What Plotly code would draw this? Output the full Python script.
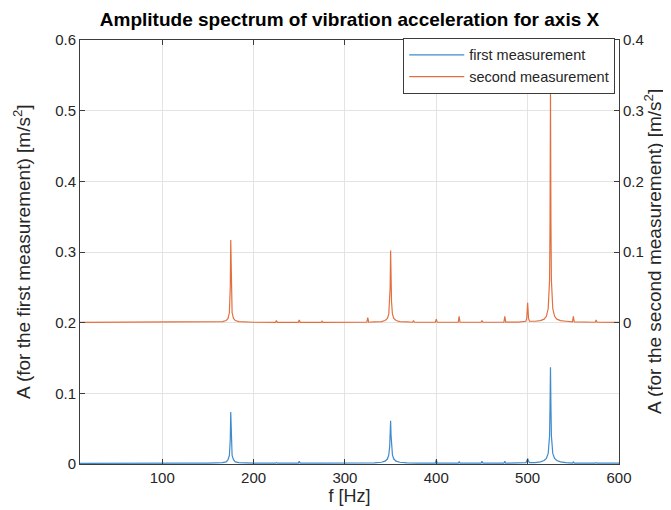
import plotly.graph_objs as go

# frequency grid and amplitudes
freq_first = [
    10, 30, 60, 90, 120, 150, 160, 166, 170, 172, 173.5, 174.5, 175, 175.5,
    176.5, 178, 180, 184, 190, 200, 224, 225, 226, 249, 250, 251, 275, 300,
    320, 332, 340, 344, 346.5, 348, 349, 349.5, 350, 350.5, 351, 352, 353.5,
    356, 360, 368, 380, 399, 400, 401, 424, 425, 426, 449, 450, 451, 474,
    475, 476, 490, 498, 499, 500, 501, 502, 508, 514, 518, 520.5, 522.5, 524,
    524.5, 525, 525.5, 526, 527.5, 529.5, 532, 536, 542, 549, 550, 551, 574,
    575, 576, 600,
]
amp_first = [
    0.001, 0.0012, 0.001, 0.0012, 0.0011, 0.0013, 0.0015, 0.002, 0.003, 0.006,
    0.012, 0.035, 0.0736, 0.035, 0.012, 0.006, 0.003, 0.002, 0.0015, 0.0013,
    0.0012, 0.002, 0.0012, 0.0013, 0.004, 0.0013, 0.0012, 0.0012, 0.0013,
    0.0015, 0.0025, 0.004, 0.007, 0.013, 0.025, 0.04, 0.0613, 0.04, 0.025,
    0.013, 0.007, 0.004, 0.0025, 0.0015, 0.0012, 0.0013, 0.006, 0.0013,
    0.0012, 0.003, 0.0012, 0.0012, 0.004, 0.0012, 0.0012, 0.004, 0.0012,
    0.0013, 0.002, 0.004, 0.008, 0.004, 0.002, 0.002, 0.003, 0.005, 0.008,
    0.015, 0.04, 0.08, 0.137, 0.08, 0.04, 0.015, 0.008, 0.005, 0.003, 0.002,
    0.0013, 0.003, 0.0013, 0.0012, 0.002, 0.0012, 0.0012,
]

freq_second = [
    10, 40, 80, 120, 150, 160, 166, 170, 172, 173.5, 174.5, 175, 175.5, 176.5,
    178, 180, 184, 190, 200, 224, 225, 226, 249, 250, 251, 274, 275, 276, 300,
    324, 325, 326, 332, 340, 344, 346.5, 348, 349, 349.5, 350, 350.5, 351,
    352, 353.5, 356, 360, 368, 374, 375, 376, 399, 400, 401, 424, 425, 426,
    449, 450, 451, 474, 475, 476, 490, 498, 499, 500, 501, 502, 508, 514, 518,
    520.5, 522.5, 524, 524.5, 525, 525.5, 526, 527.5, 529.5, 532, 536, 542,
    549, 550, 551, 574, 575, 576, 600,
]
amp_second = [
    0.0005, 0.0005, 0.0005, 0.0005, 0.0006, 0.001, 0.0015, 0.003, 0.006,
    0.014, 0.05, 0.117, 0.05, 0.014, 0.006, 0.003, 0.0015, 0.001, 0.0006,
    0.0005, 0.003, 0.0005, 0.0005, 0.004, 0.0005, 0.0005, 0.002, 0.0005,
    0.0005, 0.0006, 0.007, 0.0006, 0.001, 0.0015, 0.003, 0.006, 0.012, 0.03,
    0.05, 0.102, 0.05, 0.03, 0.012, 0.006, 0.003, 0.0015, 0.001, 0.0006,
    0.003, 0.0006, 0.0006, 0.005, 0.0006, 0.0006, 0.009, 0.0006, 0.0006,
    0.003, 0.0006, 0.0007, 0.009, 0.0007, 0.0008, 0.002, 0.006, 0.028, 0.006,
    0.002, 0.002, 0.003, 0.005, 0.009, 0.02, 0.06, 0.14, 0.325, 0.14, 0.06,
    0.02, 0.009, 0.005, 0.003, 0.002, 0.001, 0.009, 0.001, 0.0006, 0.004,
    0.0006, 0.0005,
]

x_ticks = [100, 200, 300, 400, 500, 600]
left_ticks = [0, 0.1, 0.2, 0.3, 0.4, 0.5, 0.6]
right_ticks = [0, 0.1, 0.2, 0.3, 0.4]

left_label = "A (for the first measurement) [m/s<sup>2</sup>]"
right_label = "A (for the second measurement) [m/s<sup>2</sup>]"

BLUE = "#3f8bcc"
ORANGE = "#e2703f"
AXIS = "#3c3c3c"
GRID = "#e3e3e3"
FONT = "Liberation Sans, Arial, sans-serif"


def trace_spectrum(freq, amp, name, color, yaxis="y"):
    """Line trace of one amplitude spectrum."""
    return go.Scatter(
        x=freq,
        y=amp,
        name=name,
        mode="lines",
        line={"color": color, "width": 1.2},
        yaxis=yaxis,
    )


def axis_label(text, x, xshift):
    """Rotated y-axis label placed as a paper annotation."""
    return dict(
        text=text,
        x=x,
        y=0.5,
        xref="paper",
        yref="paper",
        xshift=xshift,
        xanchor="center",
        yanchor="middle",
        textangle=-90,
        showarrow=False,
        font={"size": 19, "color": "#262626"},
    )


fig = go.Figure()
fig.add_trace(trace_spectrum(freq_first, amp_first, "first measurement", BLUE))
fig.add_trace(
    trace_spectrum(freq_second, amp_second, "second measurement", ORANGE, "y2")
)

fig.update_layout(
    width=671,
    height=510,
    margin={"l": 72, "r": 60, "t": 32, "b": 54},
    paper_bgcolor="white",
    plot_bgcolor="white",
    font={"family": FONT, "size": 15, "color": "#262626"},
    title={
        "text": "<b>Amplitude spectrum of vibration acceleration for axis X</b>",
        "x": 0.509,
        "xanchor": "center",
        "y": 0.978,
        "yanchor": "middle",
        "font": {"size": 19, "color": "#000000"},
    },
    legend={
        "x": 0.993,
        "y": 1.005,
        "xanchor": "right",
        "yanchor": "top",
        "bgcolor": "white",
        "bordercolor": AXIS,
        "borderwidth": 1,
        "font": {"size": 14.5},
        "itemwidth": 55,
        "tracegroupgap": 0,
    },
    xaxis={
        "range": [10, 600],
        "tickvals": x_ticks,
        "ticks": "inside",
        "ticklen": 5,
        "tickcolor": AXIS,
        "showline": True,
        "linecolor": AXIS,
        "mirror": "ticks",
        "showgrid": True,
        "gridcolor": GRID,
        "zeroline": False,
        "title": {"text": "f [Hz]", "standoff": 2, "font": {"size": 18}},
    },
    yaxis={
        "range": [0, 0.6],
        "tickvals": left_ticks,
        "ticks": "inside",
        "ticklen": 5,
        "tickcolor": AXIS,
        "showline": True,
        "linecolor": AXIS,
        "showgrid": True,
        "gridcolor": GRID,
        "zeroline": False,
    },
    yaxis2={
        "range": [-0.2, 0.4],
        "tickvals": right_ticks,
        "overlaying": "y",
        "side": "right",
        "ticks": "inside",
        "ticklen": 5,
        "tickcolor": AXIS,
        "showline": True,
        "linecolor": AXIS,
        "showgrid": False,
        "zeroline": False,
    },
    annotations=[
        axis_label(left_label, 0, -58),
        axis_label(right_label, 1, 34),
    ],
)

fig.write_html("out.html")
